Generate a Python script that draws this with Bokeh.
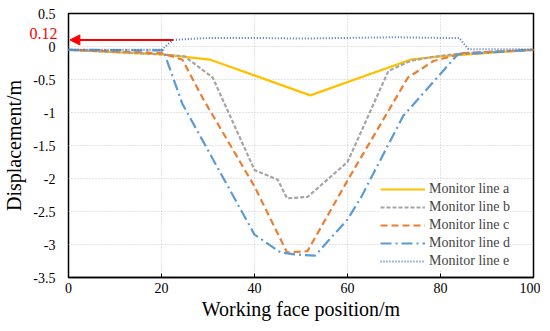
from bokeh.plotting import figure
from bokeh.models import FixedTicker, CustomJSTickFormatter, Legend, LegendItem, Arrow, NormalHead, LinearAxis
from bokeh.embed import file_html
from bokeh.resources import INLINE

# Data
xa = [0, 20, 30.5, 52, 73.5, 80, 100]
ya = [-0.05, -0.12, -0.2, -0.74, -0.2, -0.15, -0.05]

xb = [0, 20, 25, 31, 40, 45, 47, 51.4, 60, 68.8, 73.5, 78, 85, 100]
yb = [-0.05, -0.12, -0.15, -0.47, -1.87, -2.02, -2.3, -2.28, -1.75, -0.37, -0.22, -0.16, -0.1, -0.05]

xc = [0, 20, 24.5, 29, 40, 47, 51.4, 60, 73, 78.5, 85, 100]
yc = [-0.05, -0.1, -0.2, -0.8, -2.12, -3.12, -3.1, -2.03, -0.47, -0.22, -0.1, -0.05]

xd = [0, 20.4, 24.5, 40, 45.6, 48.6, 53, 60, 62.8, 72, 83.7, 100]
yd = [-0.05, -0.06, -0.87, -2.85, -3.12, -3.15, -3.17, -2.62, -2.3, -1.05, -0.12, -0.05]

xe = [0, 20, 22.5, 30, 40, 50, 60, 70, 80, 84, 86, 100]
ye = [-0.05, -0.05, 0.1, 0.13, 0.13, 0.12, 0.13, 0.14, 0.13, 0.13, -0.04, -0.04]

names = ["Monitor line a", "Monitor line b", "Monitor line c", "Monitor line d", "Monitor line e"]
x_ticks = [0, 20, 40, 60, 80, 100]
y_ticks = [0.5, 0, -0.5, -1, -1.5, -2, -2.5, -3, -3.5]
annot_text = "0.12"

FONT = "Liberation Serif"

p = figure(width=540, height=323, x_range=(0, 100), y_range=(-3.5, 0.5),
           output_backend="svg", toolbar_location=None,
           min_border_left=68, min_border_right=7, min_border_top=13, min_border_bottom=46)

p.outline_line_color = "black"
p.outline_line_width = 1.5

xax = p.xaxis[0]
yax = p.yaxis[0]
for ax in (xax, yax):
    ax.axis_line_color = "black"
    ax.axis_line_width = 1.5
    ax.major_tick_in = 4
    ax.major_tick_out = 0
    ax.minor_tick_line_color = None
    ax.major_label_text_font = FONT
    ax.major_label_text_font_size = "14px"
    ax.major_label_text_color = "black"
    ax.axis_label_text_font = FONT
    ax.axis_label_text_font_size = "20px"
    ax.axis_label_text_font_style = "normal"
    ax.axis_label_text_color = "black"

xax.ticker = FixedTicker(ticks=x_ticks)
yax.ticker = FixedTicker(ticks=y_ticks)
yax.formatter = CustomJSTickFormatter(code="return tick.toString();")
xax.axis_label = "Working face position/m"
yax.axis_label = "Displacement/m"
xax.major_label_standoff = 5
xax.axis_label_standoff = 2
# main y axis sits outside the red annotation axis; pull its labels back next to the frame
yax.axis_line_color = None
yax.major_tick_line_color = None
yax.major_label_standoff = -29
yax.axis_label_standoff = 5

p.xgrid.grid_line_color = "#C8C8C8"
p.ygrid.grid_line_color = "#C8C8C8"
p.xgrid.grid_line_dash = "1 2"
p.ygrid.grid_line_dash = "1 2"
p.ygrid.ticker = FixedTicker(ticks=y_ticks)

ra = p.line(xa, ya, line_color="#FFC000", line_width=2.2)
rb = p.line(xb, yb, line_color="#A5A5A5", line_width=2.2, line_dash="4 2")
rc = p.line(xc, yc, line_color="#ED7D31", line_width=2.2, line_dash="7 4")
rd = p.line(xd, yd, line_color="#5B9BD5", line_width=2.2, line_dash="11 4 2 4")
re = p.line(xe, ye, line_color="#4472C4", line_width=2, line_dash="1 2")

legend = Legend(items=[LegendItem(label=n, renderers=[r]) for n, r in zip(names, [ra, rb, rc, rd, re])],
                location=(312, 8))
legend.label_text_font = FONT
legend.label_text_font_size = "14px"
legend.glyph_width = 45
legend.glyph_height = 14
legend.spacing = 2
legend.label_standoff = 4
legend.padding = 4
legend.border_line_color = None
legend.background_fill_alpha = 0.9
p.add_layout(legend)

p.add_layout(Arrow(end=NormalHead(size=10, fill_color="red", line_color="red"),
                   x_start=22.5, y_start=0.1, x_end=0.3, y_end=0.1,
                   line_color="red", line_width=2))

# red "0.12" annotation: an extra left axis placed next to the frame
red_ax = LinearAxis(ticker=FixedTicker(ticks=[0.2]),
                    formatter=CustomJSTickFormatter(code="return '%s';" % annot_text))
red_ax.axis_line_color = None
red_ax.major_tick_line_color = None
red_ax.minor_tick_line_color = None
red_ax.major_tick_out = 0
red_ax.major_label_standoff = 11
red_ax.major_label_text_font = FONT
red_ax.major_label_text_font_size = "16px"
red_ax.major_label_text_color = "red"
p.add_layout(red_ax, "left")
p.left = [red_ax, yax]

open("out.html", "w").write(file_html(p, INLINE))
